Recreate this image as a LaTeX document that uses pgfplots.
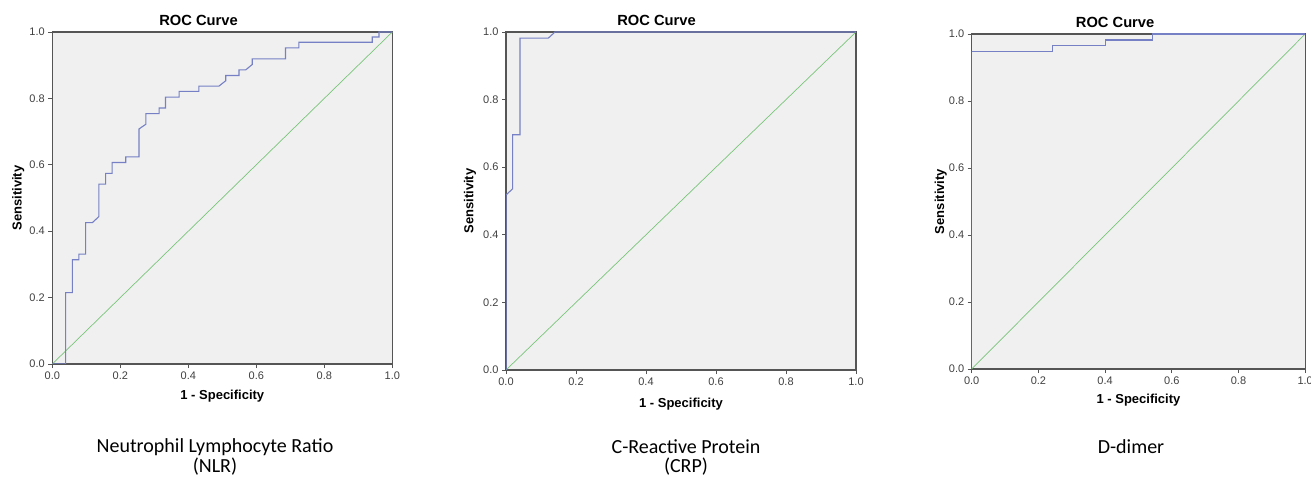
\documentclass[border=0pt]{standalone}
\usepackage{pgfplots}
\pgfplotsset{compat=1.18}
\usepackage{fontspec}
\setmainfont{Liberation Sans}
\newfontfamily\capfont{Carlito}

\definecolor{rocblue}{RGB}{118,128,196}
\definecolor{refgreen}{RGB}{120,196,120}
\definecolor{axgray}{RGB}{85,85,85}

\pgfplotsset{
  roc/.style={
    scale only axis,
    anchor=south west,
    xmin=0, xmax=1, ymin=0, ymax=1,
    xtick={0,0.2,...,1}, ytick={0,0.2,...,1},
    tick pos=left, tick align=outside,
    major tick length=4pt,
    xticklabel style={/pgf/number format/.cd, fixed, zerofill, precision=1, assume math mode=true},
    yticklabel style={/pgf/number format/.cd, fixed, zerofill, precision=1, assume math mode=true},
    tick label style={font=\fontsize{11}{12}\selectfont, text=black!75},
    axis background/.style={fill=gray!12},
    axis line style={axgray, line width=1.3pt},
    every tick/.style={axgray, line width=0.9pt},
    title={ROC Curve},
    title style={at={(axis description cs:0.43,1)}, anchor=base, yshift=0pt,
      font=\bfseries\fontsize{14.7}{16}\selectfont},
    xlabel={1 - Specificity}, ylabel={Sensitivity},
    label style={font=\bfseries\fontsize{13}{15}\selectfont},
    xlabel style={at={(axis description cs:0.5,-0.098)}, anchor=center},
    ylabel style={anchor=center},
  },
}

\begin{document}
\begin{tikzpicture}[x=1pt,y=1pt]
\path[use as bounding box] (0,0) rectangle (1311,479);

% NLR
\begin{axis}[roc, at={(52.3pt,115pt)}, width=340pt, height=332pt,
  ylabel style={at={(axis description cs:-0.1,0.5)}}]
\addplot[refgreen, line width=0.7pt] coordinates {(0,0) (1,1)};
\addplot[rocblue, line width=1.1pt] coordinates {
  (0,0) (0.039,0) (0.039,0.215) (0.059,0.215) (0.059,0.314) (0.078,0.314)
  (0.078,0.331) (0.098,0.331) (0.098,0.426) (0.118,0.426) (0.137,0.444)
  (0.137,0.542) (0.157,0.542) (0.157,0.574) (0.176,0.574) (0.176,0.607)
  (0.216,0.607) (0.216,0.624) (0.255,0.624) (0.255,0.708) (0.275,0.722)
  (0.275,0.754) (0.314,0.754) (0.314,0.771) (0.333,0.771) (0.333,0.804)
  (0.373,0.804) (0.373,0.821) (0.431,0.821) (0.431,0.837) (0.490,0.837)
  (0.510,0.853) (0.510,0.869) (0.549,0.869) (0.549,0.886) (0.569,0.886)
  (0.588,0.902) (0.588,0.919) (0.686,0.919) (0.686,0.952) (0.725,0.952)
  (0.725,0.969) (0.941,0.969) (0.941,0.985) (0.961,0.985) (0.961,1)
  (1,1)
};
\end{axis}

% CRP
\begin{axis}[roc, at={(506pt,109pt)}, width=350pt, height=338pt,
  ylabel style={at={(axis description cs:-0.103,0.5)}},
  xlabel style={at={(axis description cs:0.5,-0.1)}}]
\addplot[refgreen, line width=0.7pt] coordinates {(0,0) (1,1)};
\addplot[rocblue, line width=1.1pt] coordinates {
  (0,0) (0,0.518) (0.019,0.536) (0.019,0.696) (0.040,0.696) (0.040,0.982)
  (0.121,0.982) (0.140,1) (1,1)
};
\end{axis}

% D-dimer
\begin{axis}[roc, at={(971.7pt,110pt)}, width=333.5pt, height=335pt,
  ylabel style={at={(axis description cs:-0.093,0.5)}},
  xlabel style={at={(axis description cs:0.5,-0.093)}}]
\addplot[refgreen, line width=0.7pt] coordinates {(0,0) (1,1)};
\addplot[rocblue, line width=1.1pt] coordinates {
  (0,0) (0,0.948) (0.242,0.948) (0.242,0.965) (0.401,0.965) (0.401,0.982)
  (0.541,0.982) (0.541,1) (1,1)
};
\end{axis}

\begin{scope}[every node/.style={font=\capfont\fontsize{20}{21}\selectfont, align=center, anchor=center}]
\node at (215,32) {Neutrophil Lymphocyte Ratio};
\node at (215,12) {(NLR)};
\node at (686,32) {C-Reactive Protein};
\node at (686,12) {(CRP)};
\node at (1131,32) {D-dimer};
\end{scope}
\end{tikzpicture}
\end{document}
